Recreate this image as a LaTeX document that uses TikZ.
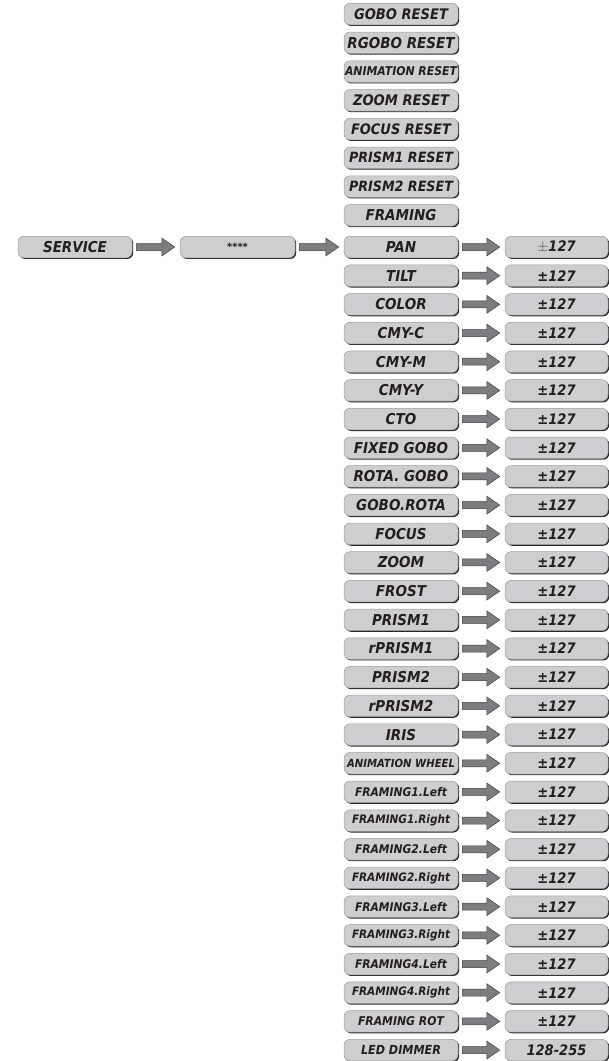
\documentclass[tikz,border=0pt]{standalone}
\usepackage{graphicx}
\usepackage{fontspec}
\setmainfont{DejaVu Sans}
\usetikzlibrary{calc,shadows}
\definecolor{boxfill}{HTML}{CECED0}
\definecolor{boxline}{HTML}{9C9C9E}
\definecolor{txt}{HTML}{231F20}
\definecolor{arrfill}{HTML}{7D7D7F}
\newsavebox\lbbox
\newcommand\fitlab[2]{\sbox\lbbox{\scalebox{0.9}[1]{#2}}\ifdim\wd\lbbox>#1\relax\resizebox{#1}{!}{\usebox\lbbox}\else\usebox\lbbox\fi}
\newcommand\blk[2]{\draw[arr] let \p1=($(#1.east)+(4pt,0)$), \p2=($(#2.west)+(-5pt,0)$) in
  (\x1,\y1+3.5pt) -- (\x2-13pt,\y1+3.5pt) -- (\x2-13pt,\y1+9pt) -- (\x2,\y1) --
  (\x2-13pt,\y1-9pt) -- (\x2-13pt,\y1-3.5pt) -- (\x1,\y1-3.5pt) -- cycle;}
\tikzset{
  box/.style={rectangle, rounded corners=6pt, minimum height=21.5pt, inner sep=0pt,
    fill=boxfill, draw=boxline, line width=0.5pt, text=txt,
    font=\fontsize{15}{16}\selectfont\bfseries\itshape,
    drop shadow={shadow xshift=1.2pt, shadow yshift=-1.2pt, fill=black!85, opacity=1}},
  colbox/.style={box, minimum width=114pt},
  valbox/.style={box, minimum width=103pt, font=\fontsize{14.5}{16}\selectfont\bfseries\itshape},
  arr/.style={fill=arrfill, draw=black!75, line width=0.5pt, line join=miter}
}
\begin{document}
\begin{tikzpicture}[x=1pt,y=-1pt]
\useasboundingbox (0,0) rectangle (609,1061);
\node[colbox] (svc) at (75,247) {\fitlab{100pt}{SERVICE}};
\node[box, minimum width=115pt, font=\fontsize{10}{11}\selectfont\bfseries] (pw) at (237.5,247) {****};
\foreach \lbl/\w [count=\i from 0] in {GOBO RESET/94pt, RGOBO RESET/108pt, ANIMATION RESET/112pt,
  ZOOM RESET/96pt, FOCUS RESET/100pt, PRISM1 RESET/104pt, PRISM2 RESET/104pt, FRAMING/106pt}
  \node[colbox] (t\i) at (401,{14+28.75*\i}) {\fitlab{\w}{\lbl}};
\foreach \lbl/\w [count=\i from 0] in {PAN/106pt, TILT/106pt, COLOR/106pt, CMY-C/106pt, CMY-M/106pt,
  CMY-Y/106pt, CTO/106pt, FIXED GOBO/98pt, ROTA. GOBO/98pt, GOBO.ROTA/98pt, FOCUS/106pt,
  ZOOM/106pt, FROST/106pt, PRISM1/106pt, rPRISM1/106pt, PRISM2/106pt, rPRISM2/106pt, IRIS/106pt,
  ANIMATION WHEEL/108pt, FRAMING1.Left/92pt, FRAMING1.Right/98pt, FRAMING2.Left/92pt,
  FRAMING2.Right/98pt, FRAMING3.Left/92pt, FRAMING3.Right/98pt, FRAMING4.Left/92pt,
  FRAMING4.Right/98pt, FRAMING ROT/86pt, LED DIMMER/80pt}
  \node[colbox] (b\i) at (401,{247+28.68*\i}) {\fitlab{\w}{\lbl}};
\node[valbox] (v0) at (556.5,247) {{\normalfont\color{black!70}\Large$\pm$}\scalebox{0.9}[1]{127}};
\foreach \i in {1,...,27}
  \node[valbox] (v\i) at (556.5,{247+28.68*\i}) {\scalebox{0.9}[1]{±127}};
\node[valbox] (v28) at (556.5,{247+28.68*28}) {\scalebox{0.9}[1]{128-255}};
\blk{svc}{pw}
\blk{pw}{b0}
\foreach \i in {0,...,28} {\blk{b\i}{v\i}}
\end{tikzpicture}
\end{document}
